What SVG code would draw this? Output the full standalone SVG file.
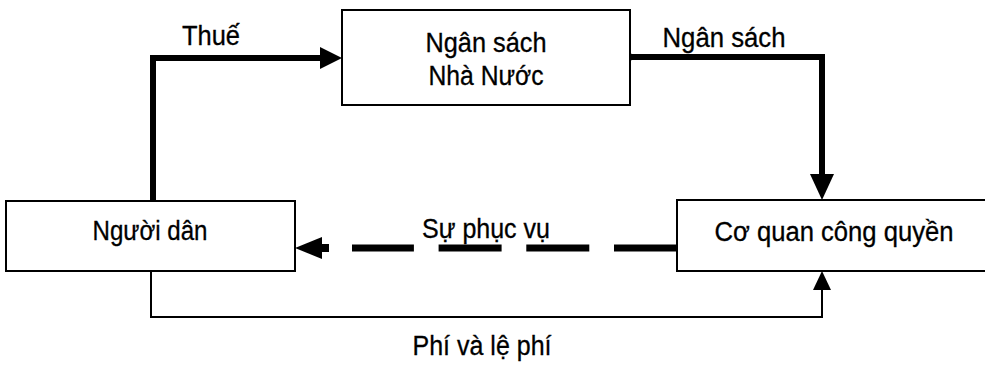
<svg xmlns="http://www.w3.org/2000/svg" width="985" height="367" viewBox="0 0 985 367">
  <style>
    .box { fill: #ffffff; stroke: #000000; stroke-width: 2; }
    .lbl { font-family: "Liberation Sans", Arial, sans-serif; font-size: 27px; fill: #000000; stroke: #000000; stroke-width: 0.3; text-anchor: middle; }
    .thick { fill: none; stroke: #000000; stroke-width: 6; stroke-linejoin: miter; }
    .thin { fill: none; stroke: #000000; stroke-width: 2; }
    .dash { fill: none; stroke: #000000; stroke-width: 7; stroke-dasharray: 63 24.7; }
    .head { fill: #000000; stroke: none; }
  </style>
  <rect width="985" height="367" fill="#ffffff"/>

  <!-- flows between the three parties -->
  <g id="connectors">
    <!-- taxes: citizens to state budget -->
    <path class="thick" d="M153,201 L153,58 L322,58"/>
    <polygon class="head" points="342,58 320,47 320,69"/>
    <text class="lbl" x="211" y="45" textLength="58" lengthAdjust="spacingAndGlyphs">Thuế</text>

    <!-- budget: state budget to public authority -->
    <circle class="head" cx="630" cy="57" r="3.5"/>
    <path class="thick" d="M630,57 L822,57 L822,176"/>
    <polygon class="head" points="822,200 810,174 834,174"/>
    <text class="lbl" x="724" y="47" textLength="123" lengthAdjust="spacingAndGlyphs">Ngân sách</text>

    <!-- service: public authority to citizens (dashed) -->
    <path class="dash" d="M677,248 L352,248"/>
    <rect class="head" x="320" y="244" width="9" height="8"/>
    <polygon class="head" points="295,248 322,237 322,259"/>
    <text class="lbl" x="486" y="238" textLength="128" lengthAdjust="spacingAndGlyphs">Sự phục vụ</text>

    <!-- fees: citizens to public authority -->
    <path class="thin" d="M151,271 L151,317 L822,317 L822,288"/>
    <polygon class="head" points="822,271 813,290 831,290"/>
    <text class="lbl" x="482" y="355" textLength="139" lengthAdjust="spacingAndGlyphs">Phí và lệ phí</text>
  </g>

  <g id="ngan-sach-nha-nuoc">
    <rect class="box" x="342" y="10" width="288" height="95"/>
    <text class="lbl" x="486" y="52" textLength="121" lengthAdjust="spacingAndGlyphs">Ngân sách</text>
    <text class="lbl" x="486" y="85" textLength="115" lengthAdjust="spacingAndGlyphs">Nhà Nước</text>
  </g>

  <g id="nguoi-dan">
    <rect class="box" x="6" y="201" width="289" height="70"/>
    <text class="lbl" x="150" y="240" textLength="115" lengthAdjust="spacingAndGlyphs">Người dân</text>
  </g>

  <g id="co-quan-cong-quyen">
    <rect class="box" x="677" y="200" width="320" height="71"/>
    <text class="lbl" x="834" y="241" textLength="239" lengthAdjust="spacingAndGlyphs">Cơ quan công quyền</text>
  </g>
</svg>
